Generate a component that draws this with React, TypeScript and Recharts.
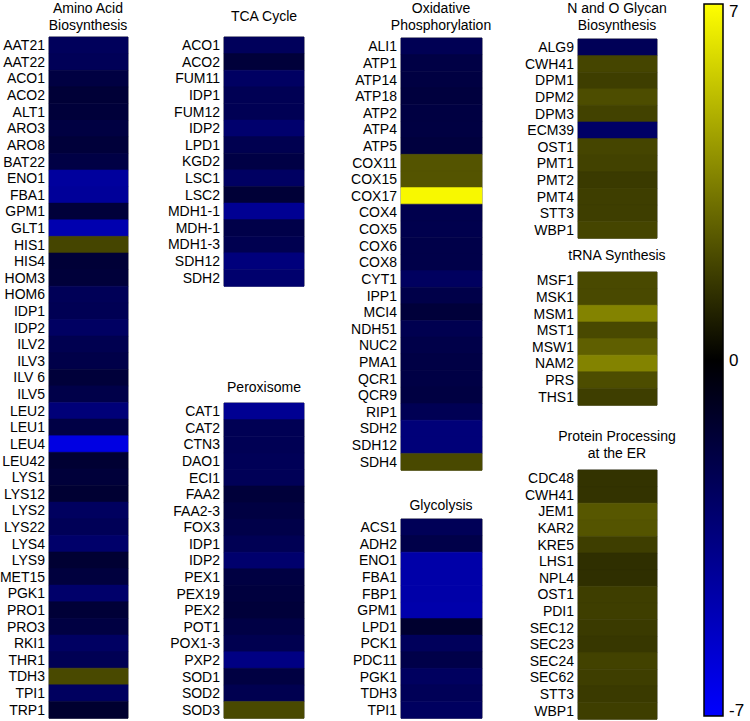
import React from 'react';
import { BarChart, Bar, XAxis, YAxis, Cell, ReferenceArea } from 'recharts';

const FONT = '"Liberation Sans", Arial, sans-serif';

// gene names and log-fold values per pathway
const aminoGenes = ['AAT21', 'AAT22', 'ACO1', 'ACO2', 'ALT1', 'ARO3', 'ARO8', 'BAT22', 'ENO1', 'FBA1', 'GPM1', 'GLT1', 'HIS1', 'HIS4', 'HOM3', 'HOM6', 'IDP1', 'IDP2', 'ILV2', 'ILV3', 'ILV 6', 'ILV5', 'LEU2', 'LEU1', 'LEU4', 'LEU42', 'LYS1', 'LYS12', 'LYS2', 'LYS22', 'LYS4', 'LYS9', 'MET15', 'PGK1', 'PRO1', 'PRO3', 'RKI1', 'THR1', 'TDH3', 'TPI1', 'TRP1'];
const aminoValues = [-2.5, -2.4, -1.8, -1.5, -1.6, -1.8, -1.6, -1.9, -4.3, -4.2, -1.6, -4.8, 1.9, -1.5, -1.6, -2.4, -2.3, -2.7, -2.2, -2.0, -1.6, -2.0, -3.3, -1.9, -6.2, -1.4, -1.6, -1.4, -2.6, -2.4, -2.9, -1.4, -1.7, -2.9, -1.5, -1.8, -2.7, -2.3, 2.0, -2.6, -1.3];

const tcaGenes = ['ACO1', 'ACO2', 'FUM11', 'IDP1', 'FUM12', 'IDP2', 'LPD1', 'KGD2', 'LSC1', 'LSC2', 'MDH1-1', 'MDH-1', 'MDH1-3', 'SDH12', 'SDH2'];
const tcaValues = [-2.5, -1.6, -2.7, -2.3, -2.3, -3.0, -2.2, -1.9, -2.7, -1.5, -4.0, -2.0, -2.2, -3.4, -3.0];

const peroxGenes = ['CAT1', 'CAT2', 'CTN3', 'DAO1', 'ECI1', 'FAA2', 'FAA2-3', 'FOX3', 'IDP1', 'IDP2', 'PEX1', 'PEX19', 'PEX2', 'POT1', 'POX1-3', 'PXP2', 'SOD1', 'SOD2', 'SOD3'];
const peroxValues = [-4.0, -2.3, -2.3, -2.4, -2.4, -1.6, -1.8, -2.0, -2.3, -3.0, -1.8, -1.7, -1.6, -1.9, -2.2, -3.6, -1.8, -2.2, 2.0];

const oxphosGenes = ['ALI1', 'ATP1', 'ATP14', 'ATP18', 'ATP2', 'ATP4', 'ATP5', 'COX11', 'COX15', 'COX17', 'COX4', 'COX5', 'COX6', 'COX8', 'CYT1', 'IPP1', 'MCI4', 'NDH51', 'NUC2', 'PMA1', 'QCR1', 'QCR9', 'RIP1', 'SDH2', 'SDH12', 'SDH4'];
const oxphosValues = [-2.3, -1.9, -1.8, -1.7, -1.8, -1.8, -1.7, 2.3, 2.3, 6.8, -2.1, -2.1, -2.0, -2.0, -2.6, -2.0, -1.6, -2.2, -2.0, -1.9, -1.9, -1.8, -2.3, -3.3, -3.3, 2.0];

const glycoGenes = ['ACS1', 'ADH2', 'ENO1', 'FBA1', 'FBP1', 'GPM1', 'LPD1', 'PCK1', 'PDC11', 'PGK1', 'TDH3', 'TPI1'];
const glycoValues = [-2.4, -2.0, -4.6, -4.6, -4.6, -4.7, -1.3, -2.5, -2.0, -2.6, -2.4, -2.6];

const glycanGenes = ['ALG9', 'CWH41', 'DPM1', 'DPM2', 'DPM3', 'ECM39', 'OST1', 'PMT1', 'PMT2', 'PMT4', 'STT3', 'WBP1'];
const glycanValues = [-2.4, 1.9, 1.7, 2.1, 1.8, -2.8, 1.9, 1.8, 1.6, 1.7, 1.7, 1.9];

const trnaGenes = ['MSF1', 'MSK1', 'MSM1', 'MST1', 'MSW1', 'NAM2', 'PRS', 'THS1'];
const trnaValues = [2.0, 2.0, 3.6, 2.0, 2.6, 3.6, 2.1, 1.7];

const erGenes = ['CDC48', 'CWH41', 'JEM1', 'KAR2', 'KRE5', 'LHS1', 'NPL4', 'OST1', 'PDI1', 'SEC12', 'SEC23', 'SEC24', 'SEC62', 'STT3', 'WBP1'];
const erValues = [1.4, 1.4, 2.4, 2.3, 1.7, 1.3, 1.3, 1.7, 1.7, 1.6, 1.5, 1.8, 1.7, 1.6, 1.7];

const colorTicks = [-7, 0, 7];
const ROW = 16.6;

function heatColor(v: number) {
  const t = Math.max(-7, Math.min(7, v)) / 7;
  if (t >= 0) {
    const c = Math.round(t * 255);
    return `rgb(${c},${c},0)`;
  }
  return `rgb(0,0,${Math.round(-t * 255)})`;
}

type PanelProps = {
  genes: string[];
  values: number[];
  left: number;
  top: number;
  labelW: number;
  boxW: number;
};

function Panel({ genes, values, left, top, labelW, boxW }: PanelProps) {
  const data = genes.map((g, i) => ({ gene: g, v: values[i], one: 1 }));
  const h = Math.round(genes.length * ROW);
  return (
    <div style={{ position: 'absolute', left, top: top - 1 }}>
      <BarChart
        width={labelW + boxW + 1}
        height={h + 2}
        data={data}
        layout="vertical"
        margin={{ top: 1, right: 1, bottom: 1, left: 0 }}
        barCategoryGap={0}
      >
        <XAxis type="number" domain={[0, 1]} hide />
        <YAxis
          type="category"
          dataKey="gene"
          width={labelW}
          interval={0}
          tickSize={0}
          tickMargin={4}
          axisLine={false}
          tickLine={false}
          tick={{ fill: '#000', fontSize: 14, fontFamily: FONT }}
        />
        <Bar dataKey="one" isAnimationActive={false}>
          {data.map((d, i) => (
            <Cell key={i} fill={heatColor(d.v)} stroke={heatColor(d.v)} strokeWidth={0.5} />
          ))}
        </Bar>
        <ReferenceArea x1={0} x2={1} fill="none" fillOpacity={0} stroke="#6b6b6b" strokeWidth={1} ifOverflow="visible" />
      </BarChart>
    </div>
  );
}

function Title({ lines, cx, top }: { lines: string[]; cx: number; top: number }) {
  return (
    <div
      style={{
        position: 'absolute',
        left: cx - 100,
        top,
        width: 200,
        textAlign: 'center',
        fontFamily: FONT,
        fontSize: 14,
        lineHeight: '17px',
        color: '#000',
      }}
    >
      {lines.map((l) => (
        <div key={l}>{l}</div>
      ))}
    </div>
  );
}

const renderCbTick = (props: any) => {
  const { x, y, payload } = props;
  const shift = payload.value === 7 ? 7 : payload.value === -7 ? -6 : 0;
  return (
    <text x={x - 1} y={y + shift} dy="0.355em" textAnchor="start" fontSize={17} fontFamily={FONT} fill="#000">
      {payload.value}
    </text>
  );
};

export default function App() {
  const cbData = [{ name: 'scale', range: [-7, 7] }];
  return (
    <div style={{ position: 'absolute', left: 0, top: 0, width: 750, height: 721, background: '#fff', overflow: 'hidden' }}>
      <Title lines={['Amino Acid', 'Biosynthesis']} cx={88} top={0} />
      <Panel genes={aminoGenes} values={aminoValues} left={0} top={37} labelW={49} boxW={79} />

      <Title lines={['TCA Cycle']} cx={264} top={8} />
      <Panel genes={tcaGenes} values={tcaValues} left={160} top={37} labelW={64} boxW={80} />

      <Title lines={['Peroxisome']} cx={264} top={379} />
      <Panel genes={peroxGenes} values={peroxValues} left={160} top={403} labelW={64} boxW={80} />

      <Title lines={['Oxidative', 'Phosphorylation']} cx={441} top={0} />
      <Panel genes={oxphosGenes} values={oxphosValues} left={340} top={38} labelW={61} boxW={81} />

      <Title lines={['Glycolysis']} cx={441} top={497} />
      <Panel genes={glycoGenes} values={glycoValues} left={340} top={519} labelW={61} boxW={81} />

      <Title lines={['N and O Glycan', 'Biosynthesis']} cx={617} top={0} />
      <Panel genes={glycanGenes} values={glycanValues} left={510} top={39} labelW={68} boxW={79} />

      <Title lines={['tRNA Synthesis']} cx={617} top={247} />
      <Panel genes={trnaGenes} values={trnaValues} left={510} top={272} labelW={68} boxW={79} />

      <Title lines={['Protein Processing', 'at the ER']} cx={617} top={428} />
      <Panel genes={erGenes} values={erValues} left={510} top={470} labelW={68} boxW={79} />

      <div style={{ position: 'absolute', left: 703, top: 0 }}>
        <BarChart width={47} height={721} data={cbData} margin={{ top: 4, right: 0, bottom: 5, left: 1 }} barCategoryGap={0}>
          <defs>
            <linearGradient id="cbGrad" x1="0" y1="0" x2="0" y2="1">
              <stop offset="0%" stopColor="#ffff00" />
              <stop offset="50%" stopColor="#000000" />
              <stop offset="100%" stopColor="#0000ff" />
            </linearGradient>
          </defs>
          <XAxis dataKey="name" hide />
          <YAxis
            orientation="right"
            type="number"
            domain={[-7, 7]}
            ticks={colorTicks}
            interval={0}
            width={27}
            tickSize={0}
            tickMargin={7}
            axisLine={false}
            tickLine={false}
            tick={renderCbTick}
          />
          <Bar dataKey="range" fill="url(#cbGrad)" stroke="#000" strokeWidth={1.5} isAnimationActive={false} />
        </BarChart>
      </div>
    </div>
  );
}
